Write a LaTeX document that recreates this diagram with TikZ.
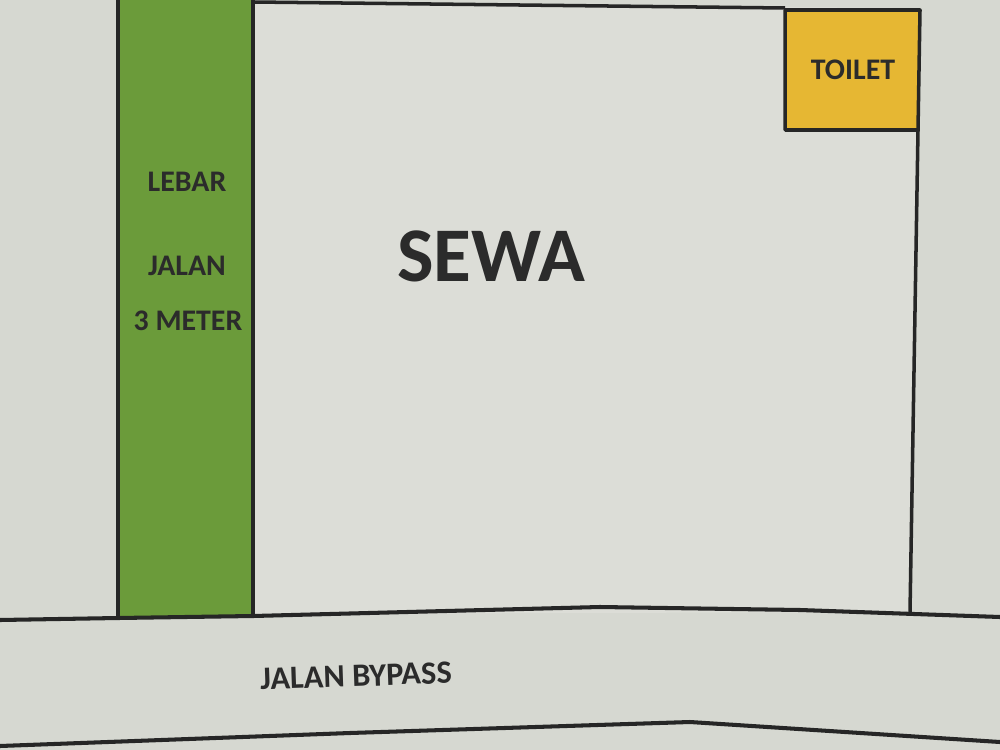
\documentclass[tikz,border=0pt]{standalone}
\usepackage{fontspec}
\setmainfont{Carlito}
\definecolor{paper}{HTML}{D6D8D1}
\definecolor{plot}{HTML}{DCDDD7}
\definecolor{roadgreen}{HTML}{6B9B3A}
\definecolor{toiletyellow}{HTML}{E6B733}
\definecolor{ink}{HTML}{2B2B2B}
\begin{document}
\begin{tikzpicture}[x=0.02cm,y=-0.02cm,
  edge/.style={draw=black!85,line width=2pt,line join=round},
  lbl/.style={font=\bfseries\fontsize{17}{20}\selectfont,text=ink,inner sep=0pt}]
\useasboundingbox (0,0) rectangle (1000,750);
\fill[paper] (0,0) rectangle (1000,750);
% plot area
\fill[plot] (253,2) -- (920,8) -- (910,612) -- (253,614) -- cycle;
% green road strip
\fill[roadgreen] (118,-5) rectangle (253,616);
\draw[edge] (118,-5) -- (118,616);
\draw[edge] (253,-5) -- (253,614);
% top edge of plot
\draw[edge] (253,2) -- (785,8);
% toilet
\draw[edge,fill=toiletyellow] (785,10) -- (920,10) -- (918,130) -- (785,130) -- cycle;
% right edge of plot
\draw[edge] (918,130) -- (910,612);
% road edges
\draw[edge,line width=2.3pt] (0,620) -- (118,618) -- (253,616) -- (600,607) -- (800,610) -- (1000,617);
\draw[edge,line width=2.3pt] (0,746) -- (350,733) -- (690,722) -- (1000,742);
% labels
\node[font=\bfseries\fontsize{44}{50}\selectfont,text=ink,inner sep=0pt] (sewa) at (491,256) {SEWA};
\node[lbl] (lebar) at (187,182) {LEBAR};
\node[lbl] (jalan) at (187,266) {JALAN};
\node[lbl] (meter) at (188,321) {3 METER};
\node[lbl] (toilet) at (853,70) {TOILET};
\node[lbl,font=\bfseries\fontsize{18.5}{22}\selectfont,rotate=2] (bypass) at (356,676) {JALAN BYPASS};
\end{tikzpicture}
\end{document}
